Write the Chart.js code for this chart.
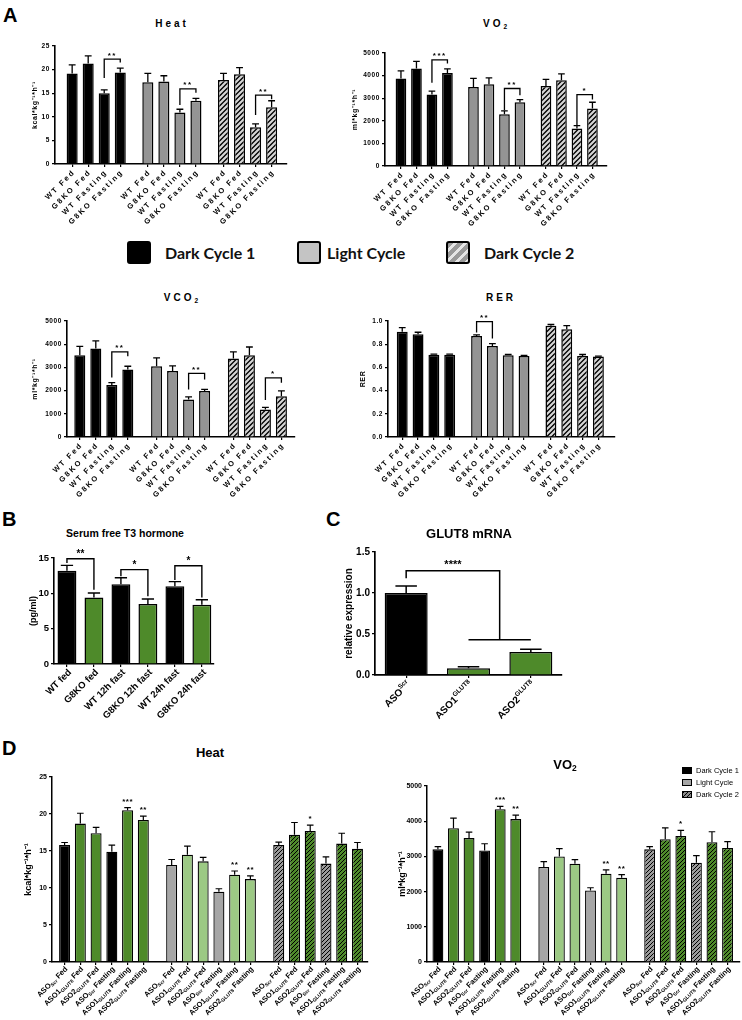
<!DOCTYPE html>
<html lang="en">
<head>
  <meta charset="UTF-8">
  <title>GLUT8 metabolic phenotyping</title>
  <script src="https://cdn.jsdelivr.net/npm/chart.js"></script>
  <style>
    body { margin: 0; width: 742px; height: 1020px; position: relative; overflow: hidden; background: #fff;
           font-family: "Liberation Sans", Arial, sans-serif; color: #000; }
    canvas { position: absolute; }
    .lbl { position: absolute; font-weight: bold; font-size: 20px; line-height: 20px; }
    .ttl { position: absolute; font-weight: bold; white-space: nowrap; line-height: 1; transform: translate(-50%, -50%); }
    .tA { font-size: 10px; letter-spacing: 3px; }
    sub { font-size: 0.65em; vertical-align: -0.3em; line-height: 0; letter-spacing: 0; }
    .leg { position: absolute; display: flex; align-items: center; font-family: Lato, "Liberation Sans", sans-serif;
           font-weight: bold; font-size: 16px; color: #111; }
    .box { width: 20px; height: 19px; border: 2px solid #000; border-radius: 3px; margin-right: 14px; box-sizing: content-box; }
    .dleg { position: absolute; left: 682px; font-size: 7.5px; line-height: 7px; display: flex; align-items: center; }
    .dbox { width: 8px; height: 5px; border: 1px solid #000; margin-right: 4px; }
  </style>
</head>
<body>
  <canvas id="heatA"></canvas>
  <canvas id="vo2A"></canvas>
  <canvas id="vco2A"></canvas>
  <canvas id="rerA"></canvas>
  <canvas id="t3B"></canvas>
  <canvas id="glutC"></canvas>
  <canvas id="heatD"></canvas>
  <canvas id="vo2D"></canvas>

  <div class="lbl" style="left:3px;top:5px">A</div>
  <div class="ttl tA" style="left:172px;top:24px">Heat</div>
  <div class="ttl tA" style="left:495px;top:24px">VO<sub>2</sub></div>

  <div class="leg" style="left:127px;top:241px"><div class="box" style="background:#000"></div>Dark Cycle 1</div>
  <div class="leg" style="left:297px;top:241px"><div class="box" style="background:#c4c4c4;margin-right:6px"></div>Light Cycle</div>
  <div class="leg" style="left:446px;top:241px"><div class="box" style="background:repeating-linear-gradient(135deg,#9a9a9a 0 4px,#e6e6e6 4px 7px)"></div>Dark Cycle 2</div>

  <div class="ttl tA" style="left:181px;top:298px">VCO<sub>2</sub></div>
  <div class="ttl tA" style="left:501px;top:298px">RER</div>

  <div class="lbl" style="left:2px;top:509px">B</div>
  <div class="ttl" style="left:125px;top:533px;font-size:10.5px">Serum free T3 hormone</div>
  <div class="lbl" style="left:326px;top:509px">C</div>
  <div class="ttl" style="left:469px;top:533px;font-size:13px">GLUT8 mRNA</div>

  <div class="lbl" style="left:2px;top:738px">D</div>
  <div class="ttl" style="left:210px;top:752px;font-size:13px">Heat</div>
  <div class="ttl" style="left:565px;top:764px;font-size:13px">VO<sub>2</sub></div>
  <div class="dleg" style="top:767px"><div class="dbox" style="background:#000"></div>Dark Cycle 1</div>
  <div class="dleg" style="top:779px"><div class="dbox" style="background:#a6a6a6"></div>Light Cycle</div>
  <div class="dleg" style="top:791px"><div class="dbox" style="background:repeating-linear-gradient(135deg,#000 0 1px,#8a8a8a 1px 3px)"></div>Dark Cycle 2</div>

  <script>
    // ---- data: panel A (indirect calorimetry, WT vs G8KO) ----
    const cycleLabels = ['WT Fed', 'G8KO Fed', 'WT Fasting', 'G8KO Fasting'];
    const heatA = [19.2, 21.3, 15.0, 19.4, 17.3, 17.5, 10.9, 13.4, 17.8, 19.0, 7.8, 12.0];
    const heatAErr = [1.8, 1.6, 0.7, 0.9, 1.9, 1.2, 0.7, 0.5, 1.4, 1.4, 0.7, 1.4];
    const heatABrackets = [[2, 3, 22.2, 18.2, 21.5, '**'], [6, 7, 15.9, 12.5, 15.1, '**'], [10, 11, 14.6, 10.4, 13.7, '**']];
    const vo2A = [3870, 4310, 3160, 4120, 3500, 3620, 2290, 2820, 3540, 3790, 1660, 2540];
    const vo2AErr = [340, 320, 150, 180, 380, 280, 150, 120, 290, 290, 130, 280];
    const vo2ABrackets = [[2, 3, 4700, 3680, 4530, '***'], [6, 7, 3430, 2470, 3130, '**'], [10, 11, 3160, 1810, 2940, '*']];
    const vco2A = [3520, 3810, 2240, 2910, 3050, 2840, 1620, 1980, 3380, 3520, 1190, 1760];
    const vco2AErr = [390, 330, 100, 140, 360, 230, 110, 70, 290, 360, 90, 230];
    const vco2ABrackets = [[2, 3, 3670, 2560, 3480, '**'], [6, 7, 2740, 2050, 2480, '**'], [10, 11, 2550, 1590, 2340, '*']];
    const rerA = [0.908, 0.885, 0.708, 0.708, 0.871, 0.785, 0.705, 0.699, 0.960, 0.928, 0.699, 0.693];
    const rerAErr = [0.035, 0.018, 0.006, 0.006, 0.01, 0.02, 0.006, 0.004, 0.01, 0.032, 0.012, 0.005];
    const rerABrackets = [[4, 5, 0.994, 0.90, 0.85, '**']];

    // ---- data: panel B (serum free T3) ----
    const t3Labels = ['WT fed', 'G8KO fed', 'WT 12h fast', 'G8KO 12h fast', 'WT 24h fast', 'G8KO 24h fast'];
    const t3 = [13.2, 9.4, 11.3, 8.5, 11.0, 8.4];
    const t3Err = [0.75, 0.65, 0.9, 0.7, 0.65, 0.7];
    const t3Brackets = [[0, 1, 14.9, 14.3, 10.5, '**'], [2, 3, 13.35, 12.4, 9.6, '*'], [4, 5, 13.9, 11.9, 9.4, '*']];

    // ---- data: panel C (GLUT8 mRNA) ----
    const glutLabels = ['ASO^{Scr}', 'ASO1^{GLUT8}', 'ASO2^{GLUT8}'];
    const glut = [1.0, 0.082, 0.28];
    const glutErr = [0.085, 0.018, 0.035];
    const glutBracket = [0, 1, 2, 1.27, 1.18, 0.43, '****'];

    // ---- data: panel D (ASO treated mice) ----
    const asoLabels = ['ASO_{Scr} Fed', 'ASO1_{GLUT8} Fed', 'ASO2_{GLUT8} Fed',
                       'ASO_{Scr} Fasting', 'ASO1_{GLUT8} Fasting', 'ASO2_{GLUT8} Fasting'];
    const heatD = [15.8, 18.7, 17.4, 14.9, 20.5, 19.2, 13.1, 14.5, 13.6, 9.5, 11.8, 11.2, 15.8, 17.2, 17.7, 13.3, 16.0, 15.3];
    const heatDErr = [0.35, 1.4, 0.8, 0.9, 0.35, 0.5, 0.75, 1.15, 0.55, 0.4, 0.5, 0.45, 0.4, 1.65, 0.8, 0.9, 1.4, 0.85];
    const vo2D = [3200, 3800, 3520, 3170, 4340, 4060, 2700, 3000, 2790, 2030, 2510, 2390, 3200, 3490, 3580, 2820, 3400, 3240];
    const vo2DErr = [80, 290, 170, 190, 80, 110, 150, 220, 120, 80, 110, 90, 80, 320, 160, 200, 300, 180];
    const dStars = ['', '', '', '', '***', '**', '', '', '', '', '**', '**', '', '', '*', '', '', ''];

    const FONT = '"Liberation Sans", Arial, sans-serif';
    Chart.defaults.font.family = FONT;
    Chart.defaults.color = '#000';

    function stripes(bg, fg, size, lw) {
      const c = document.createElement('canvas');
      c.width = size; c.height = size;
      const g = c.getContext('2d');
      g.fillStyle = bg; g.fillRect(0, 0, size, size);
      g.strokeStyle = fg; g.lineWidth = lw;
      g.beginPath();
      g.moveTo(-1, size + 1); g.lineTo(size + 1, -1);
      g.moveTo(-1, 1); g.lineTo(1, -1);
      g.moveTo(size - 1, size + 1); g.lineTo(size + 1, size - 1);
      g.stroke();
      return g.createPattern(c, 'repeat');
    }

    const green = '#4e8a2a', lightGreen = '#9cc984', greyD = '#a6a6a6';
    const fillsA = [].concat(Array(4).fill('#000'), Array(4).fill('#949494'), Array(4).fill(stripes('#000', '#d6d6d6', 5, 2.2)));
    const hatchGrey = stripes('#9a9a9a', '#000', 4, 1);
    const hatchGreen = stripes(green, '#000', 4, 1);
    const fillsD = ['#000', green, green, '#000', green, green,
                    greyD, lightGreen, lightGreen, greyD, lightGreen, lightGreen,
                    hatchGrey, hatchGreen, hatchGreen, hatchGrey, hatchGreen, hatchGreen];

    // bar centres in slot units: groups of n bars, gap between groups
    function groupPositions(groups, n, stride) {
      const out = [];
      for (let g = 0; g < groups; g++) for (let i = 0; i < n; i++) out.push(g * stride + i);
      return out;
    }

    function fontStr(size, weight) { return (weight || 'bold') + ' ' + size + 'px ' + FONT; }

    function parseRich(s) {
      const parts = [], re = /([_^])\{([^}]*)\}/g;
      let last = 0, m;
      while ((m = re.exec(s))) {
        if (m.index > last) parts.push({ t: s.slice(last, m.index), k: '' });
        parts.push({ t: m[2], k: m[1] });
        last = re.lastIndex;
      }
      if (last < s.length) parts.push({ t: s.slice(last), k: '' });
      return parts;
    }

    function extras(c) {
      return {
        id: 'extras',
        beforeDraw(chart) { chart.ctx.letterSpacing = (c.spacing || 0) + 'px'; },
        afterDatasetsDraw(chart) {
          const ctx = chart.ctx, ys = chart.scales.y;
          const bars = chart.getDatasetMeta(0).data;
          ctx.save();
          ctx.strokeStyle = '#000'; ctx.lineWidth = c.errWidth;
          bars.forEach((b, i) => {
            const top = ys.getPixelForValue(c.values[i]);
            const cap = ys.getPixelForValue(c.values[i] + c.errors[i]);
            const h = b.width * c.capPct / 2;
            ctx.beginPath();
            ctx.moveTo(b.x, top); ctx.lineTo(b.x, cap);
            ctx.moveTo(b.x - h, cap); ctx.lineTo(b.x + h, cap);
            ctx.stroke();
          });
          ctx.restore();
        },
        afterDraw(chart) {
          const ctx = chart.ctx, ys = chart.scales.y;
          const bars = chart.getDatasetMeta(0).data;
          ctx.save();
          ctx.fillStyle = '#000';
          ctx.letterSpacing = (c.labelSpacing || 0) + 'px';
          c.labels.forEach((lab, i) => {
            const parts = parseRich(lab);
            let w = 0;
            parts.forEach(p => {
              ctx.font = fontStr(p.k ? c.labelSize * 0.66 : c.labelSize);
              p.w = ctx.measureText(p.t).width; w += p.w;
            });
            ctx.save();
            ctx.translate(bars[i].x + c.labelDx, ys.bottom + c.labelDy);
            ctx.rotate(-Math.PI / 4);
            ctx.textAlign = 'left'; ctx.textBaseline = 'middle';
            let cx = -w;
            parts.forEach(p => {
              ctx.font = fontStr(p.k ? c.labelSize * 0.66 : c.labelSize);
              const dy = p.k === '_' ? c.labelSize * 0.28 : p.k === '^' ? -c.labelSize * 0.35 : 0;
              ctx.fillText(p.t, cx, dy);
              cx += p.w;
            });
            ctx.restore();
          });

          ctx.letterSpacing = (c.starSpacing || 0) + 'px';
          ctx.strokeStyle = '#000'; ctx.lineWidth = c.errWidth;
          ctx.font = fontStr(c.starSize);
          ctx.textAlign = 'center'; ctx.textBaseline = 'alphabetic';
          (c.brackets || []).forEach(([a, b, top, la, rb, txt]) => {
            const xa = bars[a].x, xb = bars[b].x, yt = ys.getPixelForValue(top);
            ctx.beginPath();
            ctx.moveTo(xa, ys.getPixelForValue(la)); ctx.lineTo(xa, yt);
            ctx.lineTo(xb, yt); ctx.lineTo(xb, ys.getPixelForValue(rb));
            ctx.stroke();
            ctx.fillText(txt, (xa + xb) / 2, yt - c.starGap);
          });
          (c.stars || []).forEach((s, i) => {
            if (s) ctx.fillText(s, bars[i].x, ys.getPixelForValue(c.values[i] + c.errors[i]) - c.starGap);
          });
          if (c.combo) {
            const [a, b1, b2, top, la, low, txt] = c.combo;
            const x0 = bars[a].x, x1 = bars[b1].x, x2 = bars[b2].x, xm = (x1 + x2) / 2;
            const yt = ys.getPixelForValue(top), yl = ys.getPixelForValue(low);
            ctx.beginPath();
            ctx.moveTo(x0, ys.getPixelForValue(la)); ctx.lineTo(x0, yt);
            ctx.lineTo(xm, yt); ctx.lineTo(xm, yl);
            ctx.moveTo(x1, yl); ctx.lineTo(x2, yl);
            ctx.stroke();
            ctx.fillText(txt, (x0 + xm) / 2, yt - c.starGap);
          }
          ctx.restore();
        }
      };
    }

    function barChart(id, c) {
      const cv = document.getElementById(id);
      const [x1, y1, x2, y2] = c.area;
      const L = Math.round(c.yTitleX - c.yTitleSize * 0.6);
      const T = y1 - c.topRoom;
      const right = c.rightRoom == null ? 14 : c.rightRoom;
      const W = x2 + right - L, H = c.bottom - T;
      cv.width = W; cv.height = H;
      cv.style.left = L + 'px'; cv.style.top = T + 'px';
      cv.style.width = W + 'px'; cv.style.height = H + 'px';
      const tickFont = { family: FONT, size: c.tickSize, weight: 'bold' };
      return new Chart(cv, {
        type: 'bar',
        data: {
          datasets: [{
            data: c.values.map((v, i) => ({ x: c.positions[i], y: v })),
            backgroundColor: c.fills,
            borderColor: '#000',
            borderWidth: c.barBorder,
            barPercentage: c.barPct,
            categoryPercentage: 1
          }]
        },
        options: {
          responsive: false,
          animation: false,
          devicePixelRatio: 1,
          layout: { padding: { left: 0, top: c.topRoom, right: right, bottom: 0 } },
          plugins: { legend: { display: false }, tooltip: { enabled: false }, title: { display: false } },
          scales: {
            x: {
              type: 'linear', min: c.xMin, max: c.xMax, offset: false, bounds: 'data',
              grid: { drawOnChartArea: false, drawTicks: true, tickLength: 3, color: '#000', lineWidth: 1.2, offset: false },
              border: { display: true, color: '#000', width: c.axisWidth },
              ticks: { autoSkip: false, minRotation: 0, maxRotation: 0, callback: () => '' },
              afterBuildTicks: s => { s.ticks = c.positions.map(v => ({ value: v })); },
              afterFit: s => { s.height = T + H - y2; }
            },
            y: {
              min: 0, max: c.yMax,
              grid: { drawOnChartArea: false, drawTicks: true, tickLength: 3, color: '#000', lineWidth: 1.2 },
              border: { display: true, color: '#000', width: c.axisWidth },
              ticks: { stepSize: c.yStep, font: tickFont, padding: 2, color: '#000',
                       callback: v => c.yDigits ? v.toFixed(c.yDigits) : String(v) },
              title: { display: true, text: c.yTitle, padding: 0, color: '#000',
                       font: { family: FONT, size: c.yTitleSize, weight: 'bold' } },
              afterFit: s => { s.width = x1 - L; }
            }
          }
        },
        plugins: [extras(c)]
      });
    }

    const styleA = {
      tickSize: 6.5, yTitleSize: 7, labelSize: 7.5, spacing: 0.6, labelSpacing: 2,
      starSize: 8, starSpacing: 1.5, starGap: 1.5, errWidth: 1.3, capPct: 0.62,
      barBorder: 1.5, barPct: 0.69, axisWidth: 1.6, labelDx: 2, labelDy: 7, topRoom: 14
    };
    const styleD = {
      tickSize: 7, yTitleSize: 9, labelSize: 7.5, spacing: 0, labelSpacing: 0,
      starSize: 8, starSpacing: 0.5, starGap: 4, errWidth: 1.2, capPct: 0.6,
      barBorder: 1.3, barPct: 0.7, axisWidth: 1.5, labelDx: 2, labelDy: 6, topRoom: 16
    };

    barChart('heatA', Object.assign({}, styleA, {
      area: [55, 46, 287, 164], yTitleX: 35, bottom: 236, yMax: 25, yStep: 5,
      yTitle: 'kcal*kg\u207B\u00B9*h\u207B\u00B9', xMin: -1.07, xMax: 13.4,
      positions: groupPositions(3, 4, 4.72), labels: [].concat(cycleLabels, cycleLabels, cycleLabels),
      values: heatA, errors: heatAErr, brackets: heatABrackets, fills: fillsA
    }));
    barChart('vo2A', Object.assign({}, styleA, {
      area: [385, 53, 607, 166], yTitleX: 355, bottom: 236, yMax: 5000, yStep: 1000,
      yTitle: 'ml*kg\u207B\u00B9*h\u207B\u00B9', xMin: -1.03, xMax: 13.3,
      positions: groupPositions(3, 4, 4.68), labels: [].concat(cycleLabels, cycleLabels, cycleLabels),
      values: vo2A, errors: vo2AErr, brackets: vo2ABrackets, fills: fillsA
    }));
    barChart('vco2A', Object.assign({}, styleA, {
      area: [67, 321, 295, 437], yTitleX: 35, bottom: 506, yMax: 5000, yStep: 1000,
      yTitle: 'ml*kg\u207B\u00B9*h\u207B\u00B9', xMin: -0.8, xMax: 13.45,
      positions: groupPositions(3, 4, 4.8), labels: [].concat(cycleLabels, cycleLabels, cycleLabels),
      values: vco2A, errors: vco2AErr, brackets: vco2ABrackets, fills: fillsA
    }));
    barChart('rerA', Object.assign({}, styleA, {
      area: [388, 321, 615, 437], yTitleX: 363, bottom: 506, yMax: 1.0, yStep: 0.2, yDigits: 1,
      yTitle: 'RER', xMin: -0.9, xMax: 13.45,
      positions: groupPositions(3, 4, 4.7), labels: [].concat(cycleLabels, cycleLabels, cycleLabels),
      values: rerA, errors: rerAErr, brackets: rerABrackets, fills: fillsA
    }));

    barChart('t3B', {
      tickSize: 9.5, yTitleSize: 9, labelSize: 9.5, spacing: 0, labelSpacing: 0,
      starSize: 10, starSpacing: 0, starGap: 2, errWidth: 1.4, capPct: 0.65,
      barBorder: 1.5, barPct: 0.7, axisWidth: 1.6, labelDx: 3, labelDy: 7, topRoom: 16,
      area: [54, 558, 214, 664], yTitleX: 33, bottom: 732, yMax: 15, yStep: 5,
      yTitle: '(pg/ml)', xMin: -0.48, xMax: 5.45,
      positions: groupPositions(1, 6, 6), labels: t3Labels,
      values: t3, errors: t3Err, brackets: t3Brackets,
      fills: ['#000', green, '#000', green, '#000', green]
    });

    barChart('glutC', {
      tickSize: 10, yTitleSize: 10, labelSize: 10, spacing: 0, labelSpacing: 0,
      starSize: 11, starSpacing: 0, starGap: 3, errWidth: 1.5, capPct: 0.5,
      barBorder: 1.5, barPct: 0.69, axisWidth: 1.7, labelDx: 3, labelDy: 8, topRoom: 14,
      area: [375, 552, 562, 675], yTitleX: 349, bottom: 732, yMax: 1.5, yStep: 0.5, yDigits: 1,
      yTitle: 'relative expression', xMin: -0.5, xMax: 2.5,
      positions: groupPositions(1, 3, 3), labels: glutLabels,
      values: glut, errors: glutErr, combo: glutBracket,
      fills: ['#000', green, green]
    });

    barChart('heatD', Object.assign({}, styleD, {
      area: [52, 777, 368, 962], yTitleX: 28, bottom: 1020, yMax: 25, yStep: 5,
      yTitle: 'kcal*kg\u207B\u00B9*h\u207B\u00B9', xMin: -0.8, xMax: 19.27,
      positions: groupPositions(3, 6, 6.8), labels: [].concat(asoLabels, asoLabels, asoLabels),
      values: heatD, errors: heatDErr, stars: dStars, fills: fillsD
    }));
    barChart('vo2D', Object.assign({}, styleD, {
      area: [427, 786, 740, 962], yTitleX: 402, bottom: 1020, yMax: 5000, yStep: 1000, rightRoom: 2,
      yTitle: 'ml*kg\u207B\u00B9*h\u207B\u00B9', xMin: -0.7, xMax: 19.4,
      positions: groupPositions(3, 6, 6.8), labels: [].concat(asoLabels, asoLabels, asoLabels),
      values: vo2D, errors: vo2DErr, stars: dStars, fills: fillsD
    }));
  </script>
</body>
</html>
